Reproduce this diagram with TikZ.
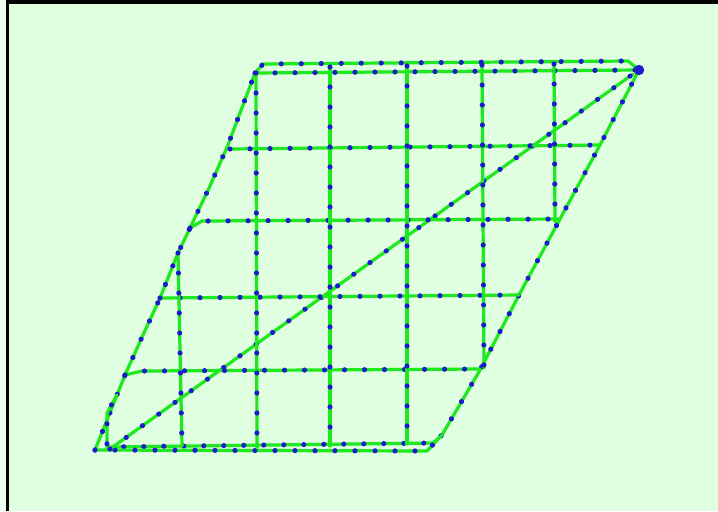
\documentclass[tikz,border=0pt]{standalone}
\usetikzlibrary{decorations.markings}
\definecolor{netzgruen}{RGB}{30,232,30}
\definecolor{knotenblau}{RGB}{28,28,205}
\definecolor{hintergrund}{RGB}{224,255,224}
\definecolor{randhell}{RGB}{238,255,238}
\tikzset{
  kante/.style={draw=netzgruen, line width=1.6pt, line join=round, line cap=round,
    postaction={decorate, decoration={markings,
      mark=between positions 0 and 1 step 10pt with {\fill[knotenblau] (0,0) circle (1.3pt);}}}}
}
\begin{document}
\begin{tikzpicture}[x=0.5pt,y=-0.5pt]
        \useasboundingbox (0,0) rectangle (718,511);
        % Hintergrund mit Rahmen
        \fill[hintergrund] (0,0) rectangle (718,511);
        \fill[randhell] (0,0) rectangle (6,511);
        \fill[black] (6,0) rectangle (9,511);
        \fill[black] (6,0) rectangle (718,4);
        % Eckpunkte
        \coordinate (ol) at (255,73);
        \coordinate (or) at (639,70);
        \coordinate (ul) at (95,450);
        \coordinate (ur) at (442,435);
        % Rand
        \draw[kante] (ul) -- (117,395) -- (125,375) -- (143,335) -- (160,298) -- (178,253)
            -- (190,228) -- (210,186) -- (228,145) -- (ol) -- (263,64) -- (628,61) -- (or);
        \draw[kante] (ol) -- (or) -- (600,145) -- (560,219) -- (519,295) -- (480,370) -- (ur)
            -- (433,443) -- (107,447) -- (107,413) -- (117,395);
        \draw[kante] (ul) -- (427,451) -- (ur);
        % Diagonale
        \draw[kante] (110,449) -- (633,74);
        % Waagrechte Linien
        \draw[kante] (230,149) -- (600,145);
        \draw[kante] (190,228) -- (202,221) -- (560,219);
        \draw[kante] (160,298) -- (519,295);
        \draw[kante] (125,375) -- (142,371) -- (480,369);
        % Senkrechte Linien
        \draw[kante] (178,253) -- (182,446);
        \draw[kante] (256,73) -- (257,448);
        \draw[kante] (330,67) -- (330,446);
        \draw[kante] (407,66) -- (407,444);
        \draw[kante] (482,65) -- (484,368);
        \draw[kante] (554,64) -- (555,222);
        \fill[knotenblau] (or) circle (2.6pt);
    \end{tikzpicture}
\end{document}
